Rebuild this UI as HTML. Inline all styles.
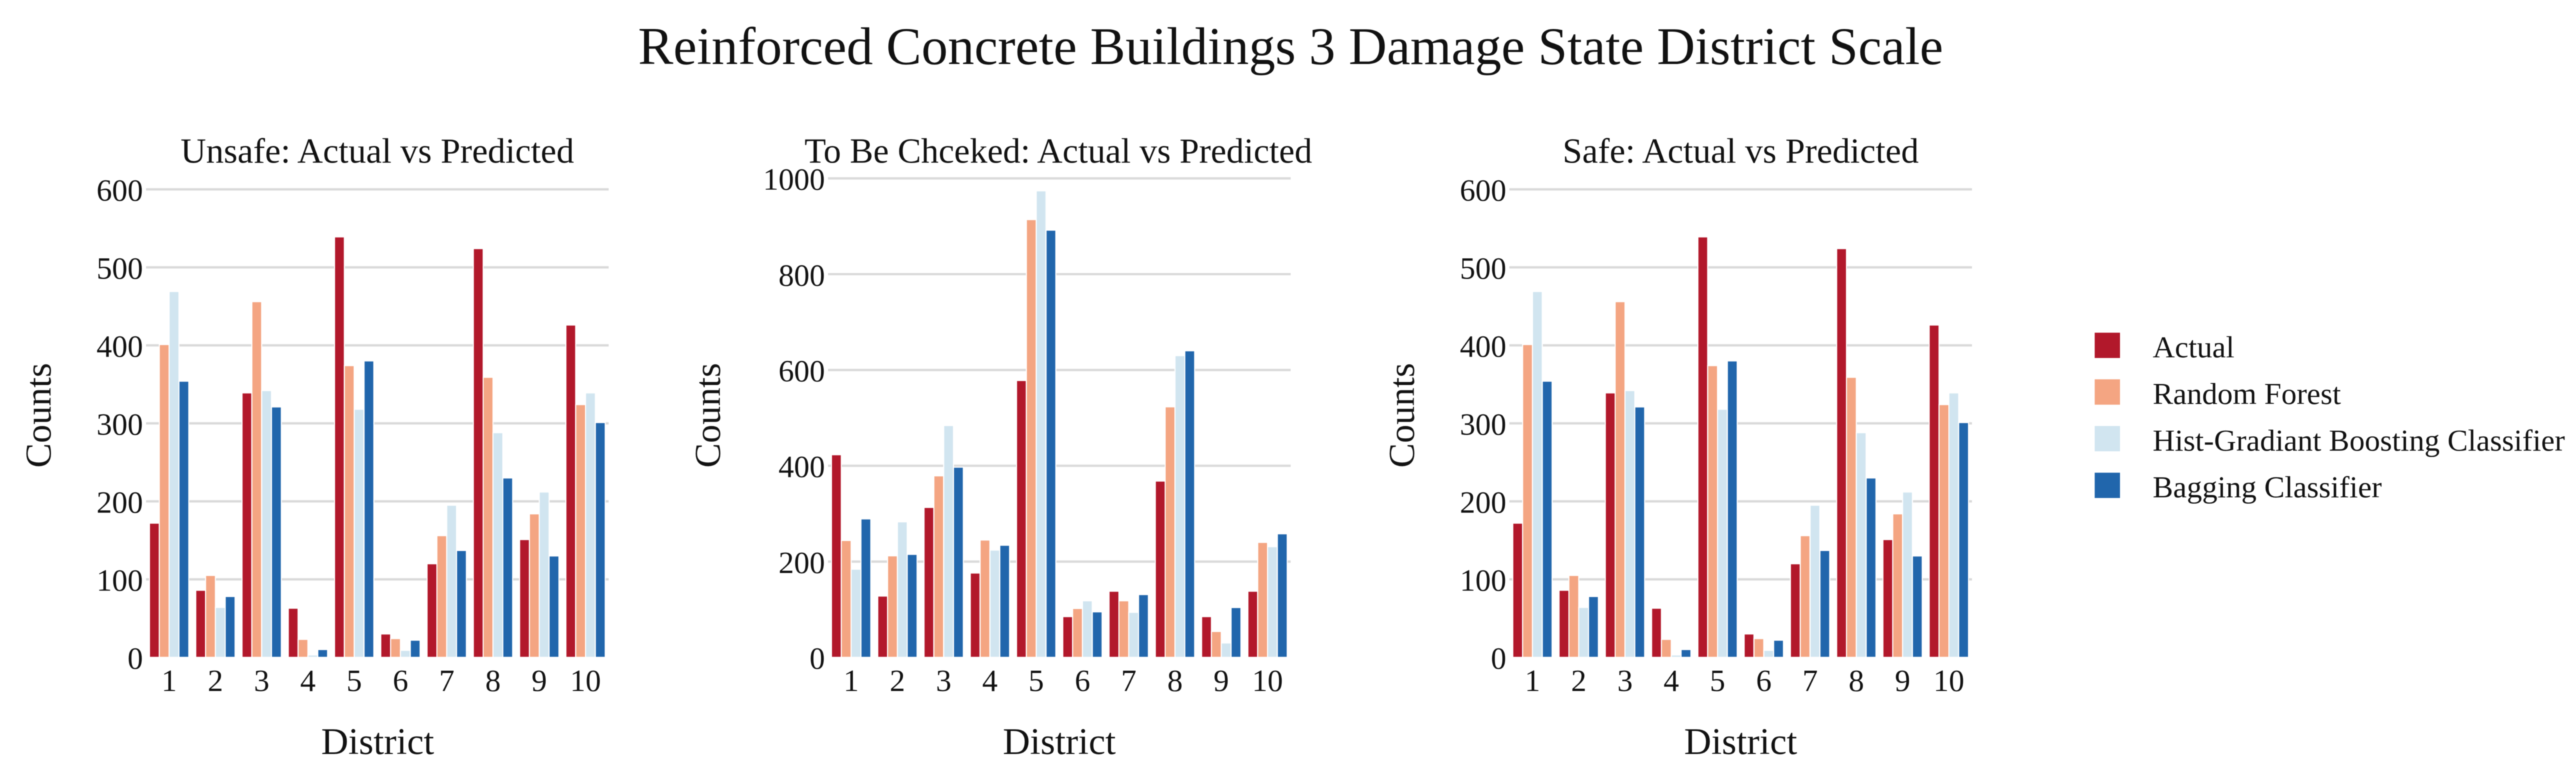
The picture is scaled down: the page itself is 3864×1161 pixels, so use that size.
<!DOCTYPE html>
<html lang="en">
<head>
<meta charset="utf-8">
<title>Reinforced Concrete Buildings 3 Damage State District Scale</title>
<style>
  html, body { margin: 0; padding: 0; background: #fff; }
  body { width: 3864px; height: 1161px; overflow: hidden; }
  svg { display: block; filter: blur(0.6px); }
  text { font-family: "Liberation Serif", "Times New Roman", serif; fill: #111; }
</style>
</head>
<body>
<svg id="chart" xmlns="http://www.w3.org/2000/svg" width="3864" height="1161" viewBox="0 0 3864 1161">
  <rect x="0" y="0" width="3864" height="1161" fill="#ffffff"/>
  <text x="1936" y="96" font-size="79.3" text-anchor="middle">Reinforced Concrete Buildings 3 Damage State District Scale</text>

  <g id="panel-unsafe">
    <text x="566" y="244" font-size="53" text-anchor="middle">Unsafe: Actual vs Predicted</text>
    <text transform="translate(76 623) rotate(-90)" font-size="55.5" text-anchor="middle">Counts</text>
    <text x="566.5" y="1131" font-size="56.5" text-anchor="middle">District</text>
  </g>
  <g id="panel-check">
    <text x="1587.5" y="244" font-size="52.7" text-anchor="middle">To Be Chceked: Actual vs Predicted</text>
    <text transform="translate(1080 623) rotate(-90)" font-size="55.5" text-anchor="middle">Counts</text>
    <text x="1589" y="1131" font-size="56.5" text-anchor="middle">District</text>
  </g>
  <g id="panel-safe">
    <text x="2611" y="244" font-size="53" text-anchor="middle">Safe: Actual vs Predicted</text>
    <text transform="translate(2121 623) rotate(-90)" font-size="55.5" text-anchor="middle">Counts</text>
    <text x="2611" y="1131" font-size="56.5" text-anchor="middle">District</text>
  </g>

  <g>
    <g>
      <rect x="3142" y="499" width="38" height="38" fill="#b2182b"/>
      <text x="3229" y="536" font-size="46">Actual</text>
    </g>
    <g>
      <rect x="3142" y="569" width="38" height="38" fill="#f4a582"/>
      <text x="3229" y="606" font-size="46">Random Forest</text>
    </g>
    <g>
      <rect x="3142" y="639" width="38" height="38" fill="#d1e5f0"/>
      <text x="3229" y="676" font-size="46">Hist-Gradiant Boosting Classifier</text>
    </g>
    <g>
      <rect x="3142" y="709" width="38" height="38" fill="#2166ac"/>
      <text x="3229" y="746" font-size="46">Bagging Classifier</text>
    </g>
  </g>
</svg>

<script>
// Chart data
const districts = [1, 2, 3, 4, 5, 6, 7, 8, 9, 10];
const seriesNames = ["actual", "random-forest", "hist-gradient", "bagging"];

const unsafeActual = [172, 86, 339, 63, 539, 30, 120, 524, 151, 426];
const unsafeRandomForest = [401, 105, 456, 23, 374, 24, 156, 359, 184, 324];
const unsafeHistGradient = [469, 64, 342, 3, 318, 9, 195, 288, 212, 339];
const unsafeBagging = [354, 78, 321, 10, 380, 22, 137, 230, 130, 301];

const checkActual = [423, 128, 313, 176, 578, 85, 138, 368, 85, 138];
const checkRandomForest = [244, 212, 379, 245, 914, 102, 118, 523, 54, 240];
const checkHistGradient = [184, 283, 484, 224, 974, 118, 94, 630, 30, 231];
const checkBagging = [289, 215, 397, 234, 892, 95, 131, 640, 104, 258];

const safeActual = [172, 86, 339, 63, 539, 30, 120, 524, 151, 426];
const safeRandomForest = [401, 105, 456, 23, 374, 24, 156, 359, 184, 324];
const safeHistGradient = [469, 64, 342, 3, 318, 9, 195, 288, 212, 339];
const safeBagging = [354, 78, 321, 10, 380, 22, 137, 230, 130, 301];

const unsafeTicks = [0, 100, 200, 300, 400, 500, 600];
const checkTicks = [0, 200, 400, 600, 800, 1000];
const safeTicks = [0, 100, 200, 300, 400, 500, 600];

// Presentation
const seriesColors = ["#b2182b", "#f4a582", "#d1e5f0", "#2166ac"];
const SVG_NS = "http://www.w3.org/2000/svg";
const PLOT_BOTTOM = 986;
const PLOT_WIDTH = 694;
const BAR_GAP = 0.15;

function makeScales(left, yMax, yMaxPixel) {
  const step = PLOT_WIDTH / districts.length;
  return {
    step: step,
    x: function (index) { return left + step * (index + 0.5); },
    y: function (value) {
      return PLOT_BOTTOM - (value / yMax) * (PLOT_BOTTOM - yMaxPixel);
    }
  };
}

function svgEl(tag) {
  return document.createElementNS(SVG_NS, tag);
}

function drawPanel(groupId, prefix, left, ticks, yMaxPixel, seriesList) {
  const group = document.getElementById(groupId);
  const yMax = ticks[ticks.length - 1];
  const scales = makeScales(left, yMax, yMaxPixel);

  ticks.forEach(function (tick) {
    const yPos = scales.y(tick);
    if (tick !== 0) {
      const line = svgEl("line");
      
      
      line.setAttribute("x1", left);
      line.setAttribute("x2", left + PLOT_WIDTH);
      line.setAttribute("y1", yPos);
      line.setAttribute("y2", yPos);
      line.setAttribute("stroke", "#dadada");
      line.setAttribute("stroke-width", "3.5");
      group.appendChild(line);
    }
    const label = svgEl("text");
    
    
    label.setAttribute("x", left - 4.5);
    label.setAttribute("y", yPos + 17);
    label.setAttribute("font-size", "46.5");
    label.setAttribute("text-anchor", "end");
    label.textContent = String(tick);
    group.appendChild(label);
  });

  const groupWidth = scales.step * (1 - BAR_GAP);
  const barWidth = groupWidth / seriesList.length;

  seriesList.forEach(function (values, seriesIndex) {
    values.forEach(function (value, catIndex) {
      const top = scales.y(value);
      const bar = svgEl("rect");
      
      
      bar.setAttribute("x", scales.x(catIndex) - groupWidth / 2 + barWidth * seriesIndex);
      bar.setAttribute("y", top);
      bar.setAttribute("width", barWidth);
      bar.setAttribute("height", scales.y(0) - top);
      bar.setAttribute("fill", seriesColors[seriesIndex]);
      bar.setAttribute("stroke", "#ffffff");
      bar.setAttribute("stroke-width", "1.6");
      group.appendChild(bar);
    });
  });

  districts.forEach(function (district, catIndex) {
    const label = svgEl("text");
    
    
    label.setAttribute("x", scales.x(catIndex));
    label.setAttribute("y", 1036.5);
    label.setAttribute("font-size", "46.5");
    label.setAttribute("text-anchor", "middle");
    label.textContent = String(district);
    group.appendChild(label);
  });
}

drawPanel("panel-unsafe", "unsafe", 219, unsafeTicks, 284,
  [unsafeActual, unsafeRandomForest, unsafeHistGradient, unsafeBagging]);
drawPanel("panel-check", "to-be-checked", 1242, checkTicks, 267.6,
  [checkActual, checkRandomForest, checkHistGradient, checkBagging]);
drawPanel("panel-safe", "safe", 2264, safeTicks, 284,
  [safeActual, safeRandomForest, safeHistGradient, safeBagging]);
</script>
</body>
</html>
